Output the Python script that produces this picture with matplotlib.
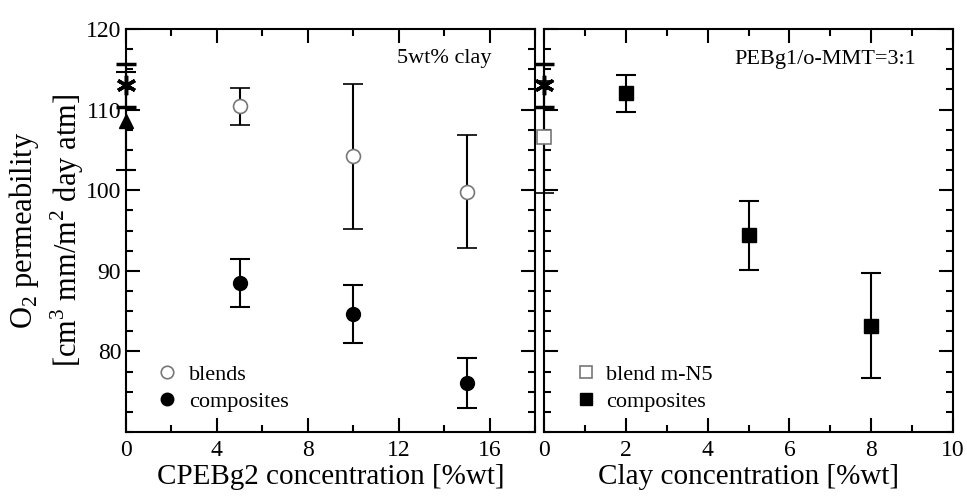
import numpy as np
import matplotlib
matplotlib.use("Agg")
import matplotlib.pyplot as plt
from matplotlib.ticker import MultipleLocator
from matplotlib.lines import Line2D

plt.rcParams['font.family'] = ['Liberation Serif', 'DejaVu Serif']
plt.rcParams['mathtext.fontset'] = 'custom'
plt.rcParams['mathtext.rm'] = 'Liberation Serif'

# left panel: CPEBg2 concentration, 5wt% clay
cpe_x = [5, 10, 15]
blends_y = [110.4, 104.2, 99.8]
blends_err = [2.3, 9.0, 7.0]
comp_y = [88.5, 84.6, 76.1]
comp_err = [3.0, 3.6, 3.1]

# reference points at x = 0
ref_star_y = 113.0
ref_star_err = 2.7
ref_tri_y = 108.6
ref_tri_err = 6.1

# right panel: clay concentration, PEBg1/o-MMT = 3:1
clay_x = [2, 5, 8]
clay_comp_y = [112.0, 94.4, 83.2]
clay_comp_err = [2.3, 4.3, 6.5]
blend_n5_y = 106.6
blend_n5_err = 7.0

fig = plt.figure(figsize=(9.67, 4.98), dpi=100)
axL = fig.add_axes([126/967, 66/498, 409/967, 403/498])
axR = fig.add_axes([544/967, 66/498, 409/967, 403/498])

eb = dict(ecolor='black', elinewidth=1.5, capsize=7, capthick=1.5, linestyle='none')
grey = '#777777'

# left
axL.errorbar([0], [ref_star_y], yerr=[ref_star_err], marker=(6, 2, 0), ms=14, mew=2.5,
             color='black', clip_on=False, zorder=5, **eb)
axL.errorbar([0], [ref_tri_y], yerr=[ref_tri_err], marker='^', ms=10,
             color='black', clip_on=False, zorder=5, **eb)
axL.errorbar(cpe_x, blends_y, yerr=blends_err, marker='o', ms=10, mfc='white', mec=grey,
             mew=1.2, **eb)
axL.errorbar(cpe_x, comp_y, yerr=comp_err, marker='o', ms=10, mfc='black', mec='black', **eb)
axL.set_xlim(0, 18)
axL.set_ylim(70, 120)
axL.xaxis.set_major_locator(MultipleLocator(4))
axL.xaxis.set_minor_locator(MultipleLocator(2))
axL.yaxis.set_minor_locator(MultipleLocator(2.5))
axL.set_yticks([80, 90, 100, 110, 120])
axL.set_xlabel('CPEBg2 concentration [%wt]', fontsize=21, labelpad=2)
axL.set_ylabel('O$_2$ permeability\n[cm$^3$ mm/m$^2$ day atm]', fontsize=22,
               linespacing=1.25, labelpad=0)
axL.text(16.1, 116.3, '5wt% clay', fontsize=16, ha='right', va='center')
hL = [Line2D([], [], ls='none', marker='o', ms=9, mfc='white', mec=grey, mew=1.2),
      Line2D([], [], ls='none', marker='o', ms=9, mfc='black', mec='black')]
axL.legend(hL, ['blends', 'composites'], loc='lower left', bbox_to_anchor=(0.072, 0.05),
           frameon=False, fontsize=16, handletextpad=0.5, labelspacing=0.28,
           handlelength=1.0, borderaxespad=0, borderpad=0)

# right
axR.errorbar([0], [ref_star_y], yerr=[ref_star_err], marker=(6, 2, 0), ms=14, mew=2.5,
             color='black', clip_on=False, zorder=5, **eb)
axR.errorbar([0], [blend_n5_y], yerr=[blend_n5_err], marker='s', ms=10, mfc='white', mec=grey,
             mew=1.2, clip_on=False, zorder=5, **eb)
axR.errorbar(clay_x, clay_comp_y, yerr=clay_comp_err, marker='s', ms=10, mfc='black',
             mec='black', **eb)
axR.set_xlim(0, 10)
axR.set_ylim(70, 120)
axR.xaxis.set_major_locator(MultipleLocator(2))
axR.xaxis.set_minor_locator(MultipleLocator(1))
axR.yaxis.set_minor_locator(MultipleLocator(2.5))
axR.set_yticks([80, 90, 100, 110, 120])
axR.set_yticklabels([])
axR.set_xlabel('Clay concentration [%wt]', fontsize=21, labelpad=2)
axR.text(9.1, 116.2, 'PEBg1/o-MMT=3:1', fontsize=16, ha='right', va='center')
hR = [Line2D([], [], ls='none', marker='s', ms=9, mfc='white', mec=grey, mew=1.2),
      Line2D([], [], ls='none', marker='s', ms=9, mfc='black', mec='black')]
axR.legend(hR, ['blend m-N5', 'composites'], loc='lower left', bbox_to_anchor=(0.075, 0.05),
           frameon=False, fontsize=16, handletextpad=0.4, labelspacing=0.28,
           handlelength=1.0, borderaxespad=0, borderpad=0)

for ax in (axL, axR):
    for s in ax.spines.values():
        s.set_linewidth(1.5)
    ax.tick_params(which='both', direction='in', top=True, right=True, width=1.5,
                   labelsize=17)
    ax.tick_params(which='major', length=10)
    ax.tick_params(which='minor', length=5)
    ax.tick_params(axis='x', pad=6)

fig.savefig('out.png', dpi=100)
